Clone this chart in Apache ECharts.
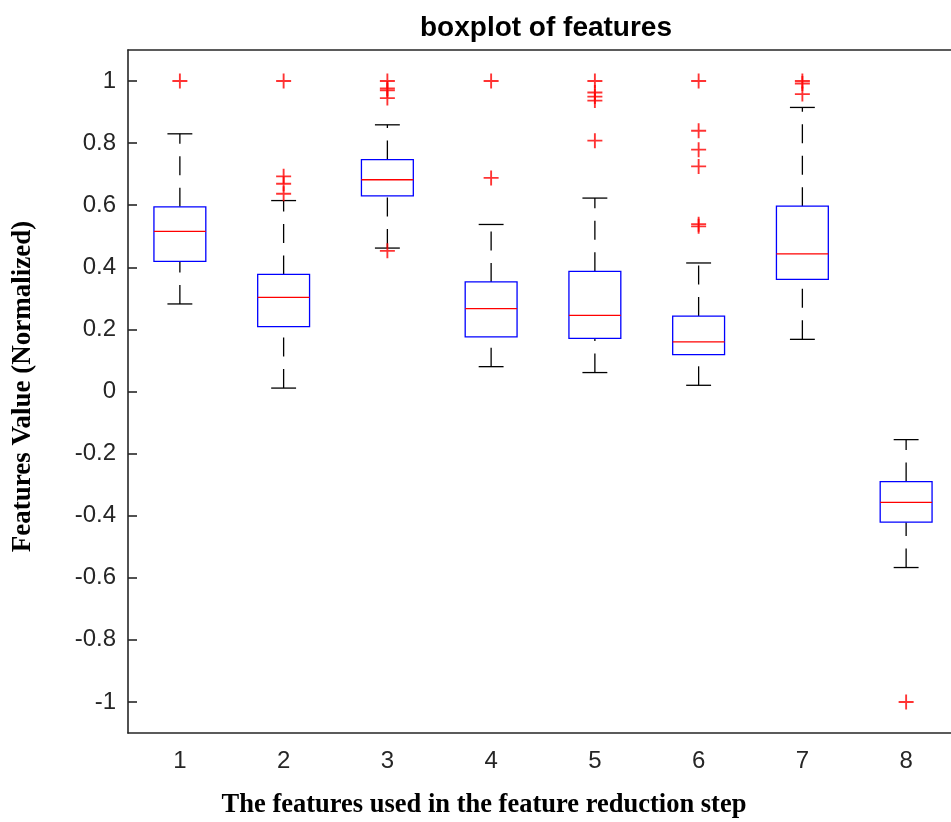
<!DOCTYPE html>
<html>
<head>
<meta charset="utf-8">
<script src="https://cdn.jsdelivr.net/npm/echarts@6/dist/echarts.min.js"></script>
<style>
  html, body { margin: 0; padding: 0; background: #fff; }
  #main { width: 951px; height: 822px; }
</style>
</head>
<body>
<div id="main"></div>
<script>
// feature index on the x axis
const categories = ['1', '2', '3', '4', '5', '6', '7', '8'];
// box statistics
const whiskerLow  = [0.282, 0.011, 0.462, 0.080, 0.061, 0.020, 0.168, -0.567];
const q1          = [0.419, 0.209, 0.630, 0.176, 0.171, 0.119, 0.361, -0.421];
const medians     = [0.516, 0.303, 0.682, 0.267, 0.245, 0.160, 0.443, -0.357];
const q3          = [0.595, 0.377, 0.747, 0.353, 0.387, 0.243, 0.597, -0.290];
const whiskerHigh = [0.830, 0.615, 0.859, 0.538, 0.623, 0.414, 0.915, -0.155];
// outliers per feature
const outliers = [
  [1.0],
  [1.0, 0.693, 0.669, 0.637],
  [1.0, 0.976, 0.970, 0.945, 0.453],
  [1.0, 0.688],
  [1.0, 0.963, 0.950, 0.937, 0.808],
  [1.0, 0.840, 0.779, 0.725, 0.539, 0.532],
  [1.0, 0.992, 0.958],
  [-1.0]
];

let boxData = categories.map(function (c, i) {
  return [i, whiskerLow[i], q1[i], medians[i], q3[i], whiskerHigh[i]];
});
let outlierData = [];
outliers.forEach(function (list, i) {
  list.forEach(function (v) { outlierData.push([i, v]); });
});

const axisColor = '#262626';
const tickFont = 'Liberation Sans, Arial, sans-serif';
const labelFont = 'Liberation Serif, Times New Roman, serif';

function renderBox(params, api) {
  let idx = api.value(0);
  let lo = api.coord([idx, api.value(1)]);
  let b1 = api.coord([idx, api.value(2)]);
  let md = api.coord([idx, api.value(3)]);
  let b3 = api.coord([idx, api.value(4)]);
  let hi = api.coord([idx, api.value(5)]);
  let cx = lo[0];
  let band = api.size([1, 0])[0];
  let bw = band * 0.5;
  let cw = band * 0.24;
  // whiskers are drawn bottom-up so the dash starts at the lower end
  let dash = { stroke: '#000', lineWidth: 1.3, lineDash: [19, 12.5] };
  let solid = { stroke: '#000', lineWidth: 1.3 };
  return {
    type: 'group',
    children: [
      { type: 'line', shape: { x1: cx, y1: lo[1], x2: cx, y2: b1[1] }, style: dash },
      { type: 'line', shape: { x1: cx, y1: b3[1], x2: cx, y2: hi[1] }, style: dash },
      { type: 'line', shape: { x1: cx - cw / 2, y1: lo[1], x2: cx + cw / 2, y2: lo[1] }, style: solid },
      { type: 'line', shape: { x1: cx - cw / 2, y1: hi[1], x2: cx + cw / 2, y2: hi[1] }, style: solid },
      { type: 'rect', shape: { x: cx - bw / 2, y: b3[1], width: bw, height: b1[1] - b3[1] },
        style: { fill: '#fff', stroke: '#0000ff', lineWidth: 1.3 } },
      { type: 'line', shape: { x1: cx - bw / 2, y1: md[1], x2: cx + bw / 2, y2: md[1] },
        style: { stroke: '#ff0000', lineWidth: 1.3 } }
    ]
  };
}

let chart = echarts.init(document.getElementById('main'), null, { renderer: 'canvas' });
let option = {
  backgroundColor: '#fff',
  animation: false,
  title: {
    text: 'boxplot of features',
    left: 541,
    textAlign: 'center',
    top: 9,
    textStyle: { fontFamily: tickFont, fontWeight: 'bold', fontSize: 28, color: '#000' }
  },
  grid: { left: 128, top: 50, bottom: 89, right: -7, outerBoundsMode: 'none', containLabel: false },
  xAxis: [{
    type: 'category',
    data: categories,
    position: 'bottom',
    boundaryGap: true,
    name: 'The features used in the feature reduction step',
    nameLocation: 'middle',
    nameGap: 59,
    nameTextStyle: {
      fontFamily: labelFont, fontWeight: 'bold', fontSize: 26.5, color: '#000',
      padding: [0, 118, 0, 0]
    },
    axisLine: { onZero: false, lineStyle: { color: axisColor, width: 1.6 } },
    axisTick: { inside: true, alignWithLabel: true, length: 10, lineStyle: { color: axisColor, width: 1.6 } },
    axisLabel: { margin: 16, fontFamily: tickFont, fontSize: 24, color: '#262626' },
    splitLine: { show: false }
  }, {
    type: 'category',
    data: categories,
    position: 'top',
    boundaryGap: true,
    axisLine: { onZero: false, lineStyle: { color: axisColor, width: 1.6 } },
    axisTick: { inside: true, alignWithLabel: true, length: 10, lineStyle: { color: axisColor, width: 1.6 } },
    axisLabel: { show: false },
    splitLine: { show: false }
  }],
  yAxis: {
    type: 'value',
    min: -1.1,
    max: 1.1,
    splitNumber: 11,
    name: 'Features Value (Normalized)',
    nameLocation: 'middle',
    nameGap: 91,
    nameRotate: 90,
    nameTextStyle: {
      fontFamily: labelFont, fontWeight: 'bold', fontSize: 27, color: '#000',
      padding: [0, 0, 0, 10]
    },
    axisLine: { show: true, onZero: false, lineStyle: { color: axisColor, width: 1.6 } },
    axisTick: { show: true, inside: true, length: 9, lineStyle: { color: axisColor, width: 1.6 } },
    axisLabel: {
      margin: 12, fontFamily: tickFont, fontSize: 24, color: '#262626',
      showMinLabel: false, showMaxLabel: false
    },
    splitLine: { show: false }
  },
  series: [{
    type: 'custom',
    renderItem: renderBox,
    encode: { x: 0, y: [1, 2, 3, 4, 5] },
    data: boxData,
    z: 2
  }, {
    type: 'scatter',
    data: outlierData,
    symbol: 'path://M7,0H9V16H7Z M0,7H16V9H0Z',
    symbolSize: 15,
    itemStyle: { color: '#ff0000' },
    z: 3
  }]
};
chart.setOption(option);
</script>
</body>
</html>
